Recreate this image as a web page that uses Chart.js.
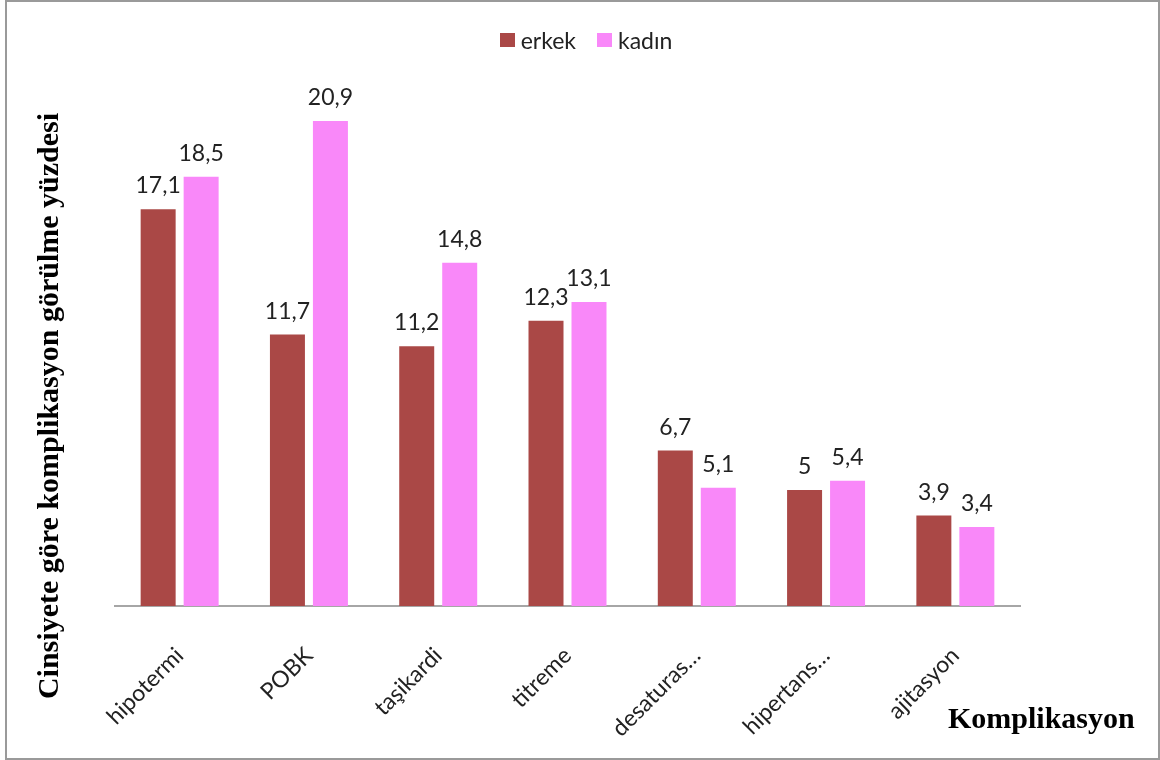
<!DOCTYPE html>
<html lang="tr">
<head>
<meta charset="utf-8">
<title>Komplikasyon</title>
<script src="https://cdn.jsdelivr.net/npm/chart.js@4.4.1/dist/chart.umd.min.js"></script>
<style>
  html, body { margin: 0; padding: 0; background: #fff; }
  #wrap { position: relative; width: 1160px; height: 760px; overflow: hidden; }
  #frame {
    position: absolute; left: 5px; top: 0; width: 1155px; height: 760px;
    box-sizing: border-box; border: 2px solid #9a9a9a; pointer-events: none;
  }
  #legend {
    position: absolute; top: 26px; left: 0; width: 1172px;
    display: flex; justify-content: center; gap: 21px;
    font-family: Lato, "Open Sans", sans-serif; font-size: 23px; color: #222;
  }
  #legend .item { display: flex; align-items: center; }
  #legend .box { width: 15px; height: 14px; margin-right: 6px; }
</style>
</head>
<body>
<div id="wrap">
  <canvas id="chart" width="1160" height="760"></canvas>
  <div id="legend"></div>
  <div id="frame"></div>
</div>
<script>
// Complication rates by sex
const categories = ['hipotermi', 'POBK', 'taşikardi', 'titreme', 'desaturas…', 'hipertans…', 'ajitasyon'];
const erkekValues = [17.1, 11.7, 11.2, 12.3, 6.7, 5, 3.9];
const kadinValues = [18.5, 20.9, 14.8, 13.1, 5.1, 5.4, 3.4];
const seriesNames = ['erkek', 'kadın'];
const seriesColors = ['#AA4846', '#F988F9'];

const yTitle = 'Cinsiyete göre komplikasyon görülme yüzdesi';
const xTitle = 'Komplikasyon';

function formatValue(v) {
  return String(v).replace('.', ',');
}

// Value labels above each bar
const valueLabels = {
  id: 'valueLabels',
  afterDatasetsDraw(chart) {
    const ctx = chart.ctx;
    ctx.save();
    ctx.font = '23px Lato, "Open Sans", sans-serif';
    ctx.fillStyle = '#222';
    ctx.textAlign = 'center';
    ctx.textBaseline = 'alphabetic';
    chart.data.datasets.forEach((ds, i) => {
      chart.getDatasetMeta(i).data.forEach((bar, j) => {
        ctx.fillText(formatValue(ds.data[j]), bar.x, bar.y - 16);
      });
    });
    ctx.restore();
  }
};

// Axis titles sit outside the usual spots, so draw them by hand
const axisTitles = {
  id: 'axisTitles',
  afterDraw(chart) {
    const ctx = chart.ctx;
    ctx.save();
    ctx.fillStyle = '#000';
    ctx.font = 'bold 30px "Liberation Serif", "DejaVu Serif", serif';
    ctx.textAlign = 'center';
    ctx.textBaseline = 'middle';
    ctx.translate(50, 406);
    ctx.rotate(-Math.PI / 2);
    ctx.fillText(yTitle, 0, 0);
    ctx.restore();

    ctx.save();
    ctx.fillStyle = '#000';
    ctx.font = 'bold 30px "Liberation Serif", "DejaVu Serif", serif';
    ctx.textAlign = 'left';
    ctx.textBaseline = 'alphabetic';
    ctx.fillText(xTitle, 948, 728);
    ctx.restore();
  }
};

function renderLegend() {
  const legend = document.getElementById('legend');
  legend.innerHTML = '';
  seriesNames.forEach((name, i) => {
    const item = document.createElement('div');
    item.className = 'item';
    item.innerHTML = `<span class="box" style="background:${seriesColors[i]}"></span><span>${name}</span>`;
    legend.appendChild(item);
  });
}

function renderChart() {
  const ctx = document.getElementById('chart').getContext('2d');
  new Chart(ctx, {
    type: 'bar',
    data: {
      labels: categories,
      datasets: [
        { label: seriesNames[0], data: erkekValues, backgroundColor: seriesColors[0] },
        { label: seriesNames[1], data: kadinValues, backgroundColor: seriesColors[1] }
      ]
    },
    options: {
      responsive: false,
      animation: false,
      categoryPercentage: 0.665,
      barPercentage: 0.814,
      layout: {
        padding: { left: 115, right: 140, top: 26, bottom: 4 }
      },
      scales: {
        x: {
          grid: { display: false, drawTicks: false },
          border: { display: true, color: '#a6a6a6', width: 2 },
          ticks: {
            color: '#222',
            font: { family: 'Lato, "Open Sans", sans-serif', size: 23 },
            maxRotation: 45,
            minRotation: 45,
            padding: 36,
            autoSkip: false
          },
          afterFit(scale) {
            // fixed height so the baseline lands at y=606 and labels are not clipped
            scale.height = 150;
          }
        },
        y: {
          display: false,
          min: 0,
          max: 25
        }
      },
      plugins: {
        legend: { display: false },
        tooltip: { enabled: false }
      }
    },
    plugins: [valueLabels, axisTitles]
  });
}

renderLegend();
renderChart();
</script>
</body>
</html>
